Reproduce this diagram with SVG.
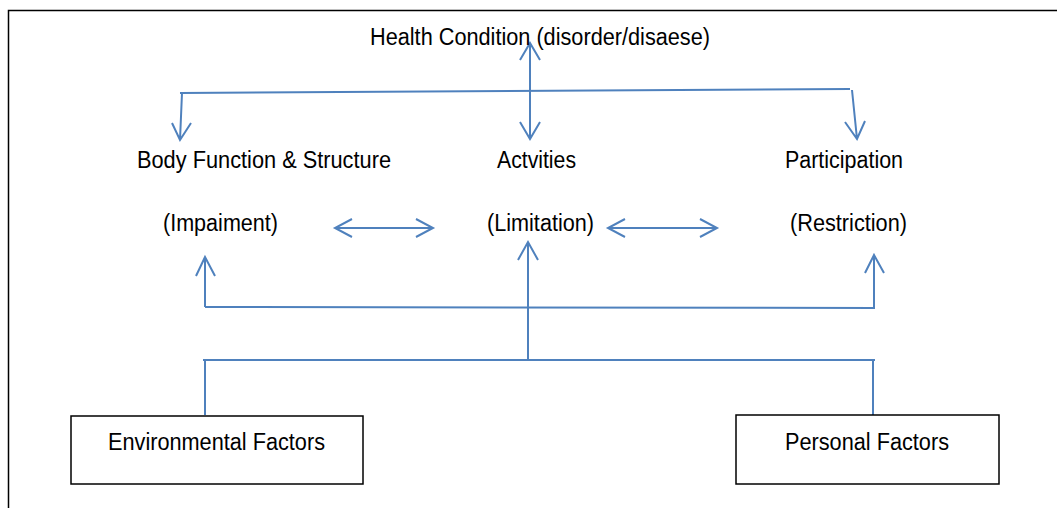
<svg xmlns="http://www.w3.org/2000/svg" width="1057" height="508" viewBox="0 0 1057 508">
<style>
.t{font-family:"Liberation Sans",Arial,sans-serif;font-size:23px;fill:#000}
.c{stroke:#4f81bd;stroke-width:2;fill:none}
.b{fill:#fff;stroke:#000;stroke-width:1.5}
</style>
<rect x="0" y="0" width="1057" height="508" fill="#fff"/>
<rect x="8.5" y="10.5" width="1100" height="600" fill="none" stroke="#000" stroke-width="1.5"/>
<g id="connectors">
<path class="c" d="M180 93 L850 89"/>
<path class="c" d="M182 93 L180 140 M172 123 L180 140 L191 123"/>
<path class="c" d="M852 90 L857 139 M845 122 L857 139 L865 121"/>
<path class="c" d="M530 43 L530 139 M520 60 L530 43 L540 60 M520 122 L530 139 L540 122"/>
<path class="c" d="M335 228 L433 228 M352 219 L335 228 L352 237 M416 219 L433 228 L416 237"/>
<path class="c" d="M608 228 L717 228 M625 219 L608 228 L625 237 M700 219 L717 228 L700 237"/>
<path class="c" d="M205 307 L205 257 M196 276 L205 257 L215 276"/>
<path class="c" d="M205 307 L875 308"/>
<path class="c" d="M874 308 L874 255 M865 273 L874 255 L884 273"/>
<path class="c" d="M528 360 L528 242 M518 260 L528 242 L538 260"/>
<path class="c" d="M203 360 L875 360"/>
<path class="c" d="M205 360 L205 415"/>
<path class="c" d="M873 361 L873 415"/>
</g>
<g id="health"><text class="t" x="370" y="45" textLength="340" lengthAdjust="spacingAndGlyphs">Health Condition (disorder/disaese)</text></g>
<g id="body"><text class="t" x="137" y="168" textLength="254" lengthAdjust="spacingAndGlyphs">Body Function &amp; Structure</text>
<text class="t" x="163" y="231" textLength="115" lengthAdjust="spacingAndGlyphs">(Impaiment)</text></g>
<g id="activities"><text class="t" x="497" y="168" textLength="79" lengthAdjust="spacingAndGlyphs">Actvities</text>
<text class="t" x="487" y="231" textLength="107" lengthAdjust="spacingAndGlyphs">(Limitation)</text></g>
<g id="participation"><text class="t" x="785" y="168" textLength="118" lengthAdjust="spacingAndGlyphs">Participation</text>
<text class="t" x="790" y="231" textLength="117" lengthAdjust="spacingAndGlyphs">(Restriction)</text></g>
<g id="environmental"><rect class="b" x="71" y="416" width="292" height="68"/>
<text class="t" x="108" y="450" textLength="217" lengthAdjust="spacingAndGlyphs">Environmental Factors</text></g>
<g id="personal"><rect class="b" x="736" y="415" width="263" height="69"/>
<text class="t" x="785" y="450" textLength="164" lengthAdjust="spacingAndGlyphs">Personal Factors</text></g>
</svg>
